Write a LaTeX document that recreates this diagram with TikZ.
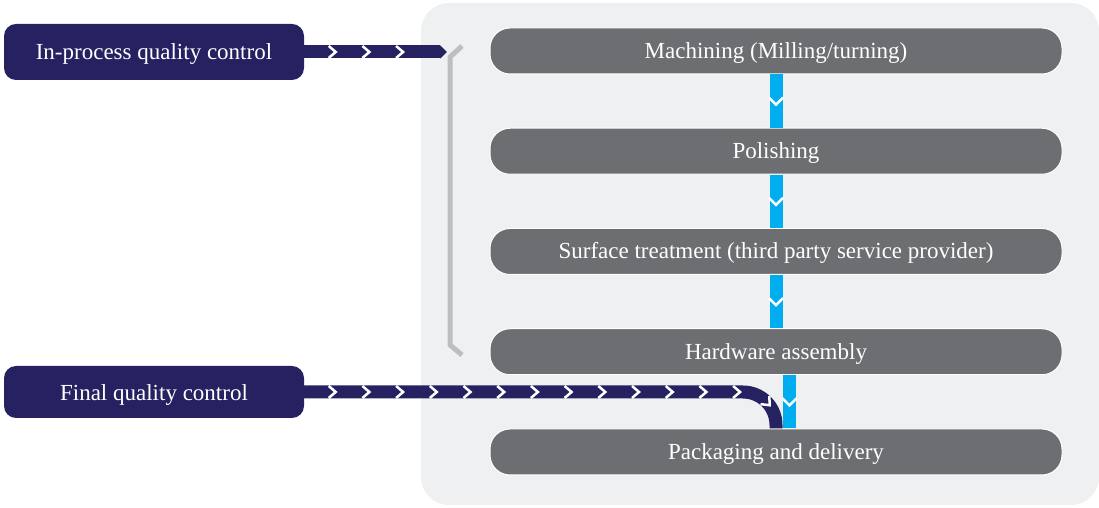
\documentclass[tikz,border=0pt]{standalone}
\usepackage{fontspec}
\setmainfont{Liberation Serif}
\usetikzlibrary{positioning,arrows.meta,decorations.markings}

\definecolor{panelgray}{HTML}{EFF0F2}
\definecolor{stagegray}{HTML}{6D6E71}
\definecolor{qcnavy}{HTML}{262262}
\definecolor{flowblue}{HTML}{00AEEF}
\definecolor{bracketgray}{HTML}{BCBEC0}

\begin{document}
\begin{tikzpicture}[x=1pt, y=1pt, node distance=53.25pt,
  stage/.style={draw=white, line width=1pt, fill=stagegray, rounded corners=20pt,
    minimum width=572pt, minimum height=46pt, text=white,
    text height=15pt, text depth=0pt, font=\fontsize{23}{27}\selectfont},
  qc/.style={fill=qcnavy, rounded corners=12pt, minimum width=300pt,
    text=white, text height=15pt, text depth=0pt, font=\fontsize{23}{27}\selectfont},
  chevron/.style={postaction={decorate}, decoration={markings,
    mark=between positions 28pt and #1 step 33.7pt with
    {\draw[white, line width=2.5pt, sharp corners, -] (-3.5pt,6pt) -- (3.5pt,0pt) -- (-3.5pt,-6pt);}}},
  qcbar/.style={draw=qcnavy, line width=13pt, chevron=#1},
  flow/.style={draw=flowblue, line width=13pt, postaction={decorate},
    decoration={markings, mark=at position 0.5 with
    {\draw[white, line width=2.5pt, sharp corners, -] (-3.5pt,7pt) -- (3.5pt,0pt) -- (-3.5pt,-7pt);}}}
]
  \useasboundingbox (0,0) rectangle (1099,508);

  % Background panel
  \fill[panelgray, rounded corners=28pt] (421,3) rectangle (1099,505);

  % Define nodes
  \node[stage] at (776,457)      (mach) {Machining (Milling/turning)};
  \node[stage, below=of mach]    (pol)  {Polishing};
  \node[stage, below=of pol]     (surf) {Surface treatment (third party service provider)};
  \node[stage, below=of surf]    (hw)   {Hardware assembly};
  \node[stage, below=of hw]      (pack) {Packaging and delivery};

  \node[qc, minimum height=56pt] at (154,456) (inqc)    {In-process quality control};
  \node[qc, minimum height=52pt, text height=18pt] at (154,116) (finalqc) {Final quality control};

  \coordinate (intip) at (447,456);

  % Connect the nodes
  \draw[flow] (mach) -- (pol);
  \draw[flow] (pol) -- (surf);
  \draw[flow] (surf) -- (hw);
  \draw[flow] ([xshift=13.5pt]hw.south) -- ([xshift=13.5pt]pack.north);

  \draw[qcbar=100pt, -{Triangle[length=7pt, width=13pt]}] (inqc.east) -- (intip);
  \draw[qcbar=480pt, rounded corners=33pt] (finalqc.east) -| (pack.north);

  % Bracket
  \draw[bracketgray, line width=5pt] (462,462) -- (450,451) -- (450,163) -- (462,153);

\end{tikzpicture}
\end{document}
